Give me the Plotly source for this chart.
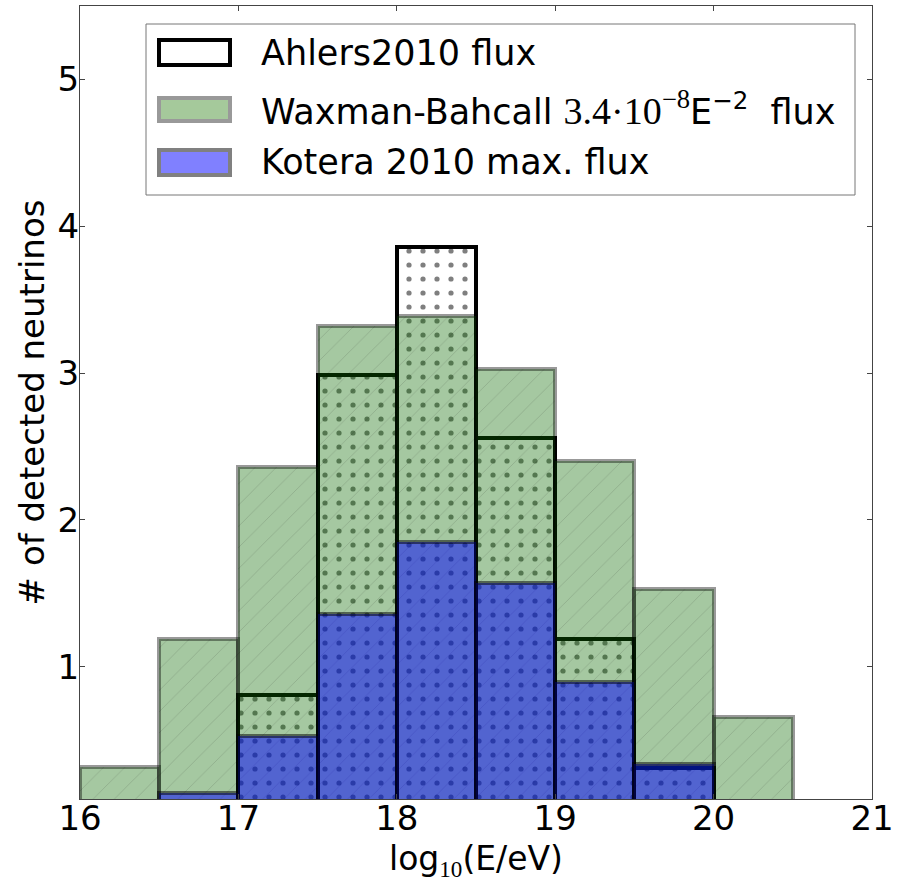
import plotly.graph_objects as go

# ---- data ----
bin_edges = [16.0, 16.5, 17.0, 17.5, 18.0, 18.5, 19.0, 19.5, 20.0, 20.5]
waxman_bahcall = [0.32, 1.19, 2.36, 3.32, 3.39, 3.03, 2.40, 1.53, 0.66]
ahlers2010 = [None, None, 0.81, 2.99, 3.86, 2.56, 1.19, 0.31, None]
kotera2010 = [None, 0.14, 0.53, 1.36, 1.85, 1.57, 0.90, 0.34, None]
x_ticks = [16, 17, 18, 19, 20, 21]
y_ticks = [1, 2, 3, 4, 5]

centers = [(a + b) / 2 for a, b in zip(bin_edges[:-1], bin_edges[1:])]
widths = [b - a for a, b in zip(bin_edges[:-1], bin_edges[1:])]

GREEN = "rgba(10,105,0,0.37)"
BLUE = "rgba(0,0,255,0.5)"
WB_EDGE = "rgba(0,0,0,0.4)"
K_EDGE = "rgba(0,0,0,0.5)"
FONT = "DejaVu Sans"
SERIF = "Liberation Serif"

fig = go.Figure()

fig.add_trace(go.Bar(
    x=centers, y=ahlers2010, width=widths, name="Ahlers2010 flux",
    marker=dict(
        color="white",
        line=dict(color="black", width=4),
        pattern=dict(shape=".", size=14, solidity=0.11, fgcolor="#000000",
                     bgcolor="white", fillmode="overlay"),
    ),
    showlegend=False,
))
fig.add_trace(go.Bar(
    x=centers, y=waxman_bahcall, width=widths, name="Waxman-Bahcall",
    marker=dict(
        color=GREEN,
        line=dict(color=WB_EDGE, width=4),
        pattern=dict(shape="/", size=15, solidity=0.06, fgcolor="rgba(0,0,0,0.25)",
                     bgcolor=GREEN, fillmode="overlay"),
    ),
    showlegend=False,
))
fig.add_trace(go.Bar(
    x=centers, y=kotera2010, width=widths, name="Kotera 2010 max. flux",
    marker=dict(color=BLUE, line=dict(color=K_EDGE, width=4)),
    showlegend=False,
))

# ---- layout geometry (pixels) ----
W, H = 897, 882
L, R, T, B = 80, 25, 6, 83
PW, PH = W - L - R, H - T - B


def px(x):
    return (x - L) / PW


def py(y):
    return (H - B - y) / PH


shapes = []
# legend frame
shapes.append(dict(type="rect", xref="paper", yref="paper",
                   x0=px(146), x1=px(855), y0=py(195), y1=py(24),
                   line=dict(color="#777777", width=1), fillcolor="white", layer="above"))
# legend swatches
sw = [
    (40, 65, "white", "black"),
    (98, 121, "rgba(165,201,155,1)", "rgba(153,153,153,1)"),
    (150, 175, "rgba(128,128,255,1)", "rgba(128,128,128,1)"),
]
for y0, y1, fc, lc in sw:
    shapes.append(dict(type="rect", xref="paper", yref="paper",
                       x0=px(159), x1=px(230), y0=py(y1), y1=py(y0),
                       line=dict(color=lc, width=4), fillcolor=fc, layer="above"))

annotations = []
labels = [
    ("Ahlers2010 flux", 53),
    ("Waxman-Bahcall <span style='font-family:%s;font-size:38px'>3.4·10<sup>−8</sup></span>E<sup>−2</sup>&nbsp; flux" % SERIF, 108),
    ("Kotera 2010 max. flux", 162),
]
for txt, yc in labels:
    annotations.append(dict(xref="paper", yref="paper", x=px(259), y=py(yc),
                            xanchor="left", yanchor="middle", text=txt, showarrow=False,
                            font=dict(family=FONT, size=35, color="black")))

axis_common = dict(
    showline=True, linecolor="#444444", linewidth=1, mirror="ticks",
    ticks="inside", ticklen=5, tickwidth=1, tickcolor="#444444",
    showgrid=False, zeroline=False,
    tickfont=dict(family=FONT, size=34, color="black"),
)

fig.update_layout(
    width=W, height=H,
    margin=dict(l=L, r=R, t=T, b=B),
    barmode="overlay",
    bargap=0,
    plot_bgcolor="white",
    paper_bgcolor="white",
    shapes=shapes,
    annotations=annotations,
    xaxis=dict(range=[16, 21], tickvals=x_ticks, ticktext=[str(t) for t in x_ticks],
               ticklabelstandoff=-11,
               title=dict(text="log<sub><span style='font-family:%s'>10</span></sub>(E/eV)" % SERIF,
                          font=dict(family=FONT, size=33, color="black"), standoff=12),
               automargin=False, **axis_common),
    yaxis=dict(range=[0.1, 5.5], tickvals=y_ticks, ticktext=[str(t) for t in y_ticks],
               ticklabelstandoff=-7,
               title=dict(text="# of detected neutrinos",
                          font=dict(family=FONT, size=34, color="black"), standoff=2),
               automargin=False, **axis_common),
)

fig.write_html("out.html", config={"displayModeBar": False},
               post_script="document.body.style.margin='0';")
